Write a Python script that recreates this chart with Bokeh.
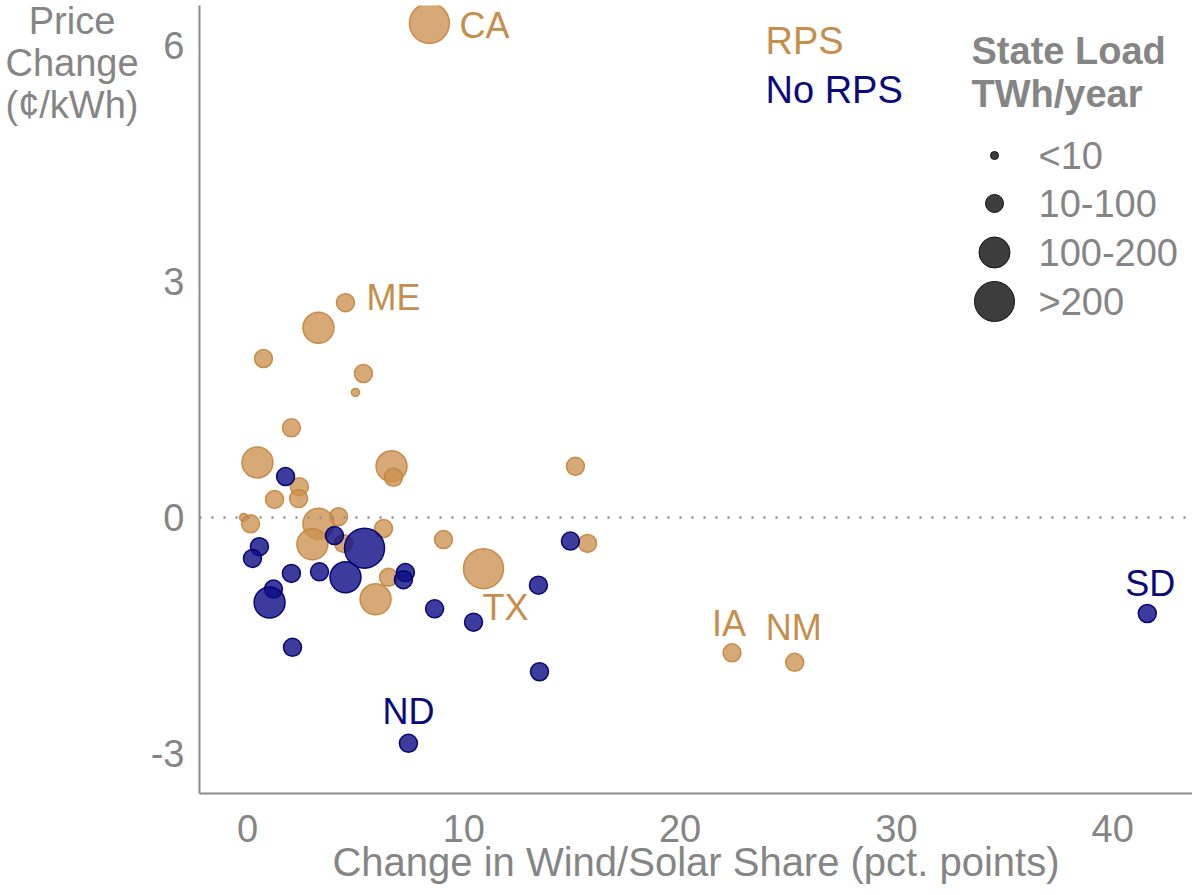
from bokeh.plotting import figure
from bokeh.models import Range1d, Span, Label, FixedTicker, ColumnDataSource, Div
from bokeh.layouts import row
from bokeh.embed import file_html
from bokeh.resources import INLINE
from bokeh.core.properties import value

# ---------------- data ----------------
# States with a Renewable Portfolio Standard
rps_x = [8.41, 4.53, 3.28, 0.74, 5.36, 4.99, 2.03, 0.46, 6.66, 6.75,
         15.16, 1.25, 2.40, 2.36, -0.18, 0.14, 4.21, 3.28, 3.00, 4.44,
         6.29, 6.52, 5.92, 9.06, 10.91, 15.72, 22.4, 25.3]
rps_y = [6.28, 2.73, 2.41, 2.02, 1.83, 1.59, 1.14, 0.70, 0.65, 0.51,
         0.65, 0.23, 0.39, 0.24, 0.00, -0.08, 0.01, -0.08, -0.34, -0.33,
         -0.14, -0.76, -1.04, -0.28, -0.65, -0.33, -1.72, -1.84]
rps_load = [">200", "10-100", "100-200", "10-100", "10-100", "<10", "10-100", "100-200", "100-200", "10-100",
            "10-100", "10-100", "10-100", "10-100", "<10", "10-100", "10-100", "100-200", "100-200", "10-100",
            "10-100", "10-100", "100-200", "10-100", ">200", "10-100", "10-100", "10-100"]
rps_name = ["CA", "ME", "", "", "", "", "", "", "", "",
            "", "", "", "", "", "", "", "", "", "",
            "", "", "", "", "TX", "", "IA", "NM"]

# States without an RPS
nr_x = [1.76, 4.02, 5.41, 0.55, 0.23, 2.03, 3.33, 4.53, 7.30, 7.21,
        1.20, 1.02, 2.08, 8.65, 10.45, 13.45, 14.93, 13.5, 7.44, 41.6]
nr_y = [0.52, -0.23, -0.39, -0.37, -0.52, -0.71, -0.69, -0.76, -0.70, -0.79,
        -0.91, -1.08, -1.65, -1.16, -1.33, -0.86, -0.30, -1.96, -2.87, -1.22]
nr_load = ["10-100", "10-100", ">200", "10-100", "10-100", "10-100", "10-100", "100-200", "10-100", "10-100",
           "10-100", "100-200", "10-100", "10-100", "10-100", "10-100", "10-100", "10-100", "10-100", "10-100"]
nr_name = ["", "", "", "", "", "", "", "", "", "",
           "", "", "", "", "", "", "", "", "ND", "SD"]

load_classes = ["<10", "10-100", "100-200", ">200"]
x_ticks = [0, 10, 20, 30, 40]
y_ticks = [-3, 0, 3, 6]

# ---------------- styling ----------------
SIZE = {"<10": 8, "10-100": 18, "100-200": 31, ">200": 40}
ORANGE = "#CC9150"
ORANGE_TXT = "#C68E4C"
NAVY = "#0B0B85"
NAVY_TXT = "#0A0A7A"
GRAY = "#858585"
FONT = "Liberation Sans"
FS = "38px"

DIV_W = 144                  # width of the left title column
TOTAL_W, H = 1192, 887
W = TOTAL_W - DIV_W
# frame edges in page pixels
IL, IR, IT, IB = 199, 1192, 5, 793
X0, X1 = -2.219, 43.69
Y0, Y1 = -3.507, 6.506


def dx(img_px):
    return X0 + (img_px - IL) / (IR - IL) * (X1 - X0)


def dy(img_py):
    return Y1 - (img_py - IT) / (IB - IT) * (Y1 - Y0)


p = figure(width=W, height=H, output_backend="svg", toolbar_location=None,
           x_range=Range1d(X0, X1), y_range=Range1d(Y0, Y1),
           min_border_left=IL - DIV_W, min_border_right=TOTAL_W - IR,
           min_border_top=IT, min_border_bottom=H - IB)
p.outline_line_color = None
p.xgrid.visible = False
p.ygrid.visible = False
p.background_fill_color = "white"
p.border_fill_color = "white"

for ax in (p.xaxis[0], p.yaxis[0]):
    ax.axis_line_color = "#8a8a8a"
    ax.axis_line_width = 2
    ax.major_tick_line_color = None
    ax.minor_tick_line_color = None
    ax.major_tick_out = 0
    ax.major_tick_in = 0
    ax.major_label_text_font = FONT
    ax.major_label_text_font_size = FS
    ax.major_label_text_color = GRAY

p.xaxis.ticker = FixedTicker(ticks=x_ticks)
p.yaxis.ticker = FixedTicker(ticks=y_ticks)
p.yaxis.major_label_overrides = {t: str(t) for t in y_ticks}
p.xaxis.major_label_standoff = 21
p.yaxis.major_label_standoff = 15
p.xaxis.axis_label = "Change in Wind/Solar Share (pct. points)"
p.xaxis.axis_label_text_font = FONT
p.xaxis.axis_label_text_font_size = "40px"
p.xaxis.axis_label_text_font_style = "normal"
p.xaxis.axis_label_text_color = GRAY
p.xaxis.axis_label_standoff = -5

# zero line
p.add_layout(Span(location=0, dimension="width", line_color="#8a8a8a",
                  line_width=2.5, line_dash="2 10"))

# ---------------- points ----------------
rps_src = ColumnDataSource(dict(x=rps_x, y=rps_y, s=[SIZE[c] for c in rps_load]))
nr_src = ColumnDataSource(dict(x=nr_x, y=nr_y, s=[SIZE[c] for c in nr_load]))

p.scatter("x", "y", size="s", source=rps_src, marker="circle",
          fill_color=ORANGE, fill_alpha=0.78, line_color="#C4853C", line_alpha=0.9, line_width=1.5)
p.scatter("x", "y", size="s", source=nr_src, marker="circle",
          fill_color=NAVY, fill_alpha=0.8, line_color="#000070", line_alpha=0.95, line_width=1.5)

# ---------------- state labels ----------------
# pixel offsets of each name relative to its point
OFFS = {"CA": (30, 2, "left"), "ME": (48, -5, "center"), "TX": (22, 39, "center"),
        "IA": (-3, -29, "center"), "NM": (-1, -35, "center"),
        "ND": (0, -32, "center"), "SD": (3, -30, "center")}


def label_source(xs, ys, names):
    d = dict(x=[], y=[], t=[], xo=[], yo=[], al=[])
    for xv, yv, n in zip(xs, ys, names):
        if n:
            ox, oy, al = OFFS[n]
            d["x"].append(xv); d["y"].append(yv); d["t"].append(n)
            d["xo"].append(ox); d["yo"].append(oy); d["al"].append(al)
    return ColumnDataSource(d)


p.text("x", "y", text="t", x_offset="xo", y_offset="yo", text_align="al",
       text_baseline="middle", source=label_source(rps_x, rps_y, rps_name),
       text_font=value(FONT), text_font_size="36px", text_color=ORANGE_TXT)
p.text("x", "y", text="t", x_offset="xo", y_offset="yo", text_align="al",
       text_baseline="middle", source=label_source(nr_x, nr_y, nr_name),
       text_font=value(FONT), text_font_size="36px", text_color=NAVY_TXT)

# ---------------- colour legend ----------------
p.add_layout(Label(x=dx(765), y=dy(40), text="RPS", text_align="left", text_baseline="middle",
                   text_font=FONT, text_font_size=FS, text_color=ORANGE_TXT))
p.add_layout(Label(x=dx(765), y=dy(89), text="No RPS", text_align="left", text_baseline="middle",
                   text_font=FONT, text_font_size=FS, text_color=NAVY_TXT))

# ---------------- size legend ----------------
p.add_layout(Label(x=dx(971), y=dy(50), text="State Load", text_align="left", text_baseline="middle",
                   text_font=FONT, text_font_size=FS, text_font_style="bold", text_color=GRAY))
p.add_layout(Label(x=dx(971), y=dy(93), text="TWh/year", text_align="left", text_baseline="middle",
                   text_font=FONT, text_font_size=FS, text_font_style="bold", text_color=GRAY))

leg_rows = [155, 203, 252, 301]
leg_src = ColumnDataSource(dict(x=[dx(994)] * len(load_classes),
                                y=[dy(r) for r in leg_rows],
                                s=[SIZE[c] for c in load_classes],
                                t=load_classes))
p.scatter("x", "y", size="s", source=leg_src, marker="circle",
          fill_color="#333333", fill_alpha=0.95, line_color="#111111", line_width=1)
p.text("x", "y", text="t", x_offset=44, text_baseline="middle", text_align="left",
       source=leg_src, text_font=value(FONT), text_font_size=FS, text_color=GRAY)

# ---------------- y axis title (three lines, top left) ----------------
ytitle = Div(text="Price<br>Change<br>(¢/kWh)", width=DIV_W, height=H,
             styles={"font-family": FONT, "font-size": FS, "color": GRAY,
                     "text-align": "center", "line-height": "42px",
                     "margin": "0", "padding": "0"})

layout = row(ytitle, p)
open("out.html", "w").write(file_html(layout, INLINE))
